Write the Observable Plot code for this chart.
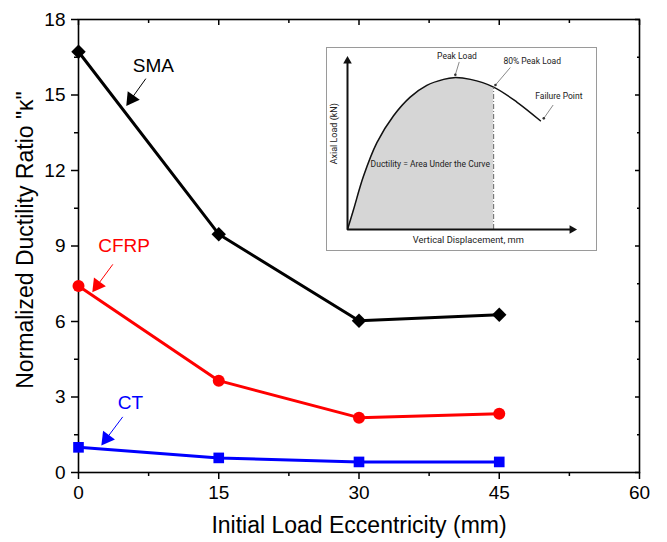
<!DOCTYPE html>
<html><head><meta charset="utf-8">
<script src="https://cdn.jsdelivr.net/npm/d3@7"></script>
<script src="https://cdn.jsdelivr.net/npm/@observablehq/plot@0.6"></script>
<style>
body{margin:0;background:#fff;}
#wrap{position:relative;width:667px;height:542px;}
#inset{position:absolute;left:326px;top:47px;}
#inset svg{border:1px solid #9a9a9a;display:block;background:#fff;}
</style></head><body><div id="wrap"><div id="main"></div><div id="inset"></div></div>
<script>
// ---------- main chart data ----------
const eccentricity = [0, 15, 30, 45];
const smaValues  = [16.72, 9.47, 6.03, 6.27];
const cfrpValues = [7.41, 3.65, 2.18, 2.33];
const ctValues   = [1.00, 0.58, 0.42, 0.42];
const seriesNames = ["SMA", "CFRP", "CT"];
const xTicks = [0, 15, 30, 45, 60];
const xMinor = [7.5, 22.5, 37.5, 52.5];
const yTicks = [0, 3, 6, 9, 12, 15, 18];
const yMinor = [1.5, 4.5, 7.5, 10.5, 13.5, 16.5];
const xTitle = "Initial Load Eccentricity (mm)";
const yTitle = 'Normalized Ductility Ratio "κ"';
// annotation label positions (data units): text, arrow tail, arrow tip
const annLabels = ["SMA", "CFRP", "CT"];
const annText = [[8.0, 16.14], [4.87, 9.0], [5.55, 2.76]];
const annTail = [[7.2, 15.65], [3.67, 8.27], [4.73, 2.21]];
const annTip  = [[5.33, 14.68], [1.7, 7.28], [2.67, 1.19]];

// ---------- inset data ----------
const dispX = [0, 0.26, 0.70, 1.29, 2.02, 2.75, 3.48, 4.22, 4.66, 5.39, 6.41, 7.44, 8.46];
const loadY = [0, 1.14, 3.11, 5.08, 6.65, 7.74, 8.43, 8.78, 8.88, 8.78, 8.33, 7.44, 6.36];
const limitX = 6.41;
const insetLabels = ["Peak Load", "80% Peak Load", "Failure Point"];
const insetLabelPos = [[4.8, 10.15], [8.1, 9.85], [9.27, 7.8]];
const insetArrowFrom = [[4.9, 9.8], [7.14, 9.47], [9.02, 7.28]];
const insetArrowTo = [[4.73, 9.05], [6.49, 8.45], [8.61, 6.5]];
const insetArea = "Ductility = Area Under the Curve";
const insetXTitle = "Vertical Displacement, mm";
const insetYTitle = "Axial Load (kN)";

// ---------- styles ----------
const colors = {SMA: "#000000", CFRP: "#ff0000", CT: "#0000ff"};
const symbols = {SMA: "diamond2", CFRP: "circle", CT: "square"};
const radii = {SMA: 6.5, CFRP: 6, CT: 6};
const W = 667, H = 542, ML = 78, MR = 28, MT = 19, MB = 70;
const pxX = (W - ML - MR) / 60, pxY = (H - MT - MB) / 18;

const valuesBySeries = {SMA: smaValues, CFRP: cfrpValues, CT: ctValues};
const marks = [];
for (const s of seriesNames) {
  const data = eccentricity.map((e, i) => ({x: e, y: valuesBySeries[s][i]}));
  marks.push(Plot.line(data, {x: "x", y: "y", stroke: colors[s], strokeWidth: 3}));
  marks.push(Plot.dot(data, {x: "x", y: "y", fill: colors[s], stroke: "none", symbol: symbols[s], r: radii[s]}));
}
annLabels.forEach((lab, i) => {
  const c = colors[lab];
  const [tx, ty] = annText[i], [x1, y1] = annTail[i], [x2, y2] = annTip[i];
  const dxp = (x2 - x1) * pxX, dyp = -(y2 - y1) * pxY;
  const ang = Math.atan2(dxp, -dyp) * 180 / Math.PI;
  const len = Math.hypot(dxp, dyp);
  const back = 5 / len; // centroid of triangle sits a few px behind the tip
  const hx = x2 - (x2 - x1) * back, hy = y2 - (y2 - y1) * back;
  marks.push(Plot.link([{x1, y1, x2: hx, y2: hy}], {x1: "x1", y1: "y1", x2: "x2", y2: "y2", stroke: c, strokeWidth: 1}));
  marks.push(Plot.dot([{x: hx, y: hy}], {x: "x", y: "y", symbol: "triangle", r: 5.5, fill: c, stroke: "none", rotate: ang}));
  marks.push(Plot.text([{x: tx, y: ty, t: lab}], {x: "x", y: "y", text: "t", fill: c, fontSize: 19}));
});

const main = Plot.plot({
  width: W, height: H,
  marginLeft: ML, marginRight: MR, marginTop: MT, marginBottom: MB,
  style: {fontFamily: "Liberation Sans, Arial, sans-serif", color: "black", background: "white", overflow: "visible"},
  x: {domain: [0, 60]},
  y: {domain: [0, 18]},
  marks: [
    Plot.axisX(xTicks, {anchor: "bottom", tickSize: 7, tickPadding: 6, fontSize: 19, label: null, strokeWidth: 1.5}),
    Plot.axisX(xMinor, {anchor: "bottom", tickSize: 4, tickFormat: () => "", label: null, strokeWidth: 1.5}),
    Plot.axisX(xTicks, {anchor: "top", tickSize: 5, dy: 5, tickFormat: () => "", label: null, strokeWidth: 1.5}),
    Plot.axisX(xMinor, {anchor: "top", tickSize: 3, dy: 3, tickFormat: () => "", label: null, strokeWidth: 1.5}),
    Plot.axisY(yTicks, {anchor: "left", tickSize: 7, tickPadding: 6, fontSize: 19, label: null, strokeWidth: 1.5}),
    Plot.axisY(yMinor, {anchor: "left", tickSize: 4, tickFormat: () => "", label: null, strokeWidth: 1.5}),
    Plot.axisY(yTicks, {anchor: "right", tickSize: 5, dx: -5, tickFormat: () => "", label: null, strokeWidth: 1.5}),
    Plot.axisY(yMinor, {anchor: "right", tickSize: 3, dx: -3, tickFormat: () => "", label: null, strokeWidth: 1.5}),
    Plot.frame({stroke: "black", strokeWidth: 1.6}),
    ...marks,
    Plot.text([xTitle], {text: d => d, frameAnchor: "bottom", textAnchor: "middle", lineAnchor: "middle", dy: 53, fontSize: 23}),
    Plot.text([yTitle], {text: d => d, frameAnchor: "left", textAnchor: "middle", lineAnchor: "middle", rotate: -90, dx: -53, dy: -6, fontSize: 23})
  ]
});
document.getElementById("main").appendChild(main);

// ---------- inset ----------
const curve = dispX.map((d, i) => ({x: d, y: loadY[i]}));
const areaPts = curve.filter(d => d.x <= limitX);
const limitY = loadY[dispX.indexOf(limitX)];
const insetMarks = [
  Plot.areaY(areaPts, {x: "x", y: "y", fill: "#d6d6d6", curve: "catmull-rom"}),
  Plot.line(curve, {x: "x", y: "y", stroke: "#111", strokeWidth: 1.5, curve: "catmull-rom"}),
  Plot.ruleX([limitX], {y1: 0, y2: limitY, stroke: "#666", strokeWidth: 1, strokeDasharray: "5,2,1,2"}),
  Plot.link([{x1: 0, y1: 0, x2: 0, y2: 9.85}], {x1: "x1", y1: "y1", x2: "x2", y2: "y2", stroke: "#111", strokeWidth: 2}),
  Plot.link([{x1: 0, y1: 0, x2: 9.85, y2: 0}], {x1: "x1", y1: "y1", x2: "x2", y2: "y2", stroke: "#111", strokeWidth: 2}),
  Plot.dot([{x: 0, y: 9.85}], {x: "x", y: "y", symbol: "triangle", r: 3.2, fill: "#111", stroke: "none", rotate: 0}),
  Plot.dot([{x: 9.85, y: 0}], {x: "x", y: "y", symbol: "triangle", r: 3.2, fill: "#111", stroke: "none", rotate: 90}),
  Plot.text([insetArea], {text: d => d, x: () => 3.63, y: () => 3.8, fontSize: 8.5, fill: "#222"}),
  Plot.text([insetXTitle], {text: d => d, x: () => 5.3, y: () => -0.62, fontSize: 9.3, fill: "#222"}),
  Plot.text([insetYTitle], {text: d => d, x: () => -0.6, y: () => 5.6, rotate: -90, fontSize: 9, fill: "#222"})
];
insetLabels.forEach((lab, i) => {
  insetMarks.push(Plot.text([lab], {text: d => d, x: () => insetLabelPos[i][0], y: () => insetLabelPos[i][1], fontSize: 8.5, fill: "#222"}));
  insetMarks.push(Plot.link([0], {x1: () => insetArrowFrom[i][0], y1: () => insetArrowFrom[i][1], x2: () => insetArrowTo[i][0], y2: () => insetArrowTo[i][1], stroke: "#555", strokeWidth: 0.7}));
  insetMarks.push(Plot.dot([0], {x: () => insetArrowTo[i][0], y: () => insetArrowTo[i][1], r: 1.3, fill: "#333", stroke: "none"}));
});
const inset = Plot.plot({
  width: 269, height: 202,
  marginLeft: 20, marginRight: 21, marginTop: 10, marginBottom: 21,
  style: {fontFamily: "Roboto, sans-serif", background: "white", overflow: "visible"},
  x: {domain: [0, 10], axis: null},
  y: {domain: [0, 10], axis: null},
  marks: insetMarks
});
document.getElementById("inset").appendChild(inset);
</script></body></html>
